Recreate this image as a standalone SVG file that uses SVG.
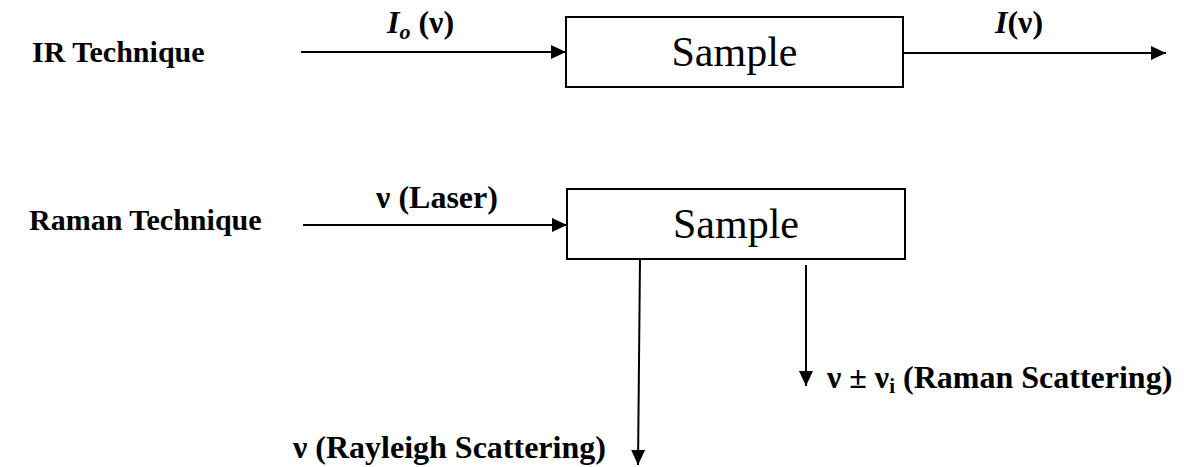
<svg xmlns="http://www.w3.org/2000/svg" width="1187" height="467" viewBox="0 0 1187 467">
  <style>
    .box { fill: #fff; stroke: #000; stroke-width: 2; }
    .wire { fill: none; stroke: #000; stroke-width: 2; }
    .lbl { font-family: "Liberation Serif", "Times New Roman", serif; font-weight: bold; font-size: 32px; fill: #000; }
    .tech { font-size: 30px; }
    .big { font-family: "Liberation Serif", "Times New Roman", serif; font-size: 42px; fill: #000; }
  </style>
  <defs>
    <marker id="head" viewBox="0 0 15 14" refX="15" refY="7" markerWidth="15" markerHeight="14" markerUnits="userSpaceOnUse" orient="auto">
      <path d="M0,0 L15,7 L0,14 Z" fill="#000"/>
    </marker>
  </defs>
  <rect width="1187" height="467" fill="#fff"/>

  <g id="ir-label"><text class="lbl tech" x="32" y="62">IR Technique</text></g>
  <g id="raman-label"><text class="lbl tech" x="29" y="230">Raman Technique</text></g>

  <g id="ir-sample">
    <rect class="box" x="566" y="17" width="337" height="70"/>
    <text class="big" x="734.5" y="66" text-anchor="middle">Sample</text>
  </g>
  <g id="raman-sample">
    <rect class="box" x="567" y="189" width="338" height="70"/>
    <text class="big" x="736" y="238" text-anchor="middle">Sample</text>
  </g>

  <g id="connectors">
    <line class="wire" x1="301" y1="52" x2="566" y2="52" marker-end="url(#head)"/>
    <line class="wire" x1="903" y1="53" x2="1166" y2="53" marker-end="url(#head)"/>
    <line class="wire" x1="303" y1="225" x2="567" y2="225" marker-end="url(#head)"/>
    <line class="wire" x1="640" y1="259" x2="638" y2="465" marker-end="url(#head)"/>
    <line class="wire" x1="806" y1="265" x2="806" y2="386" marker-end="url(#head)"/>
  </g>

  <g id="edge-labels">
    <text class="lbl" x="387" y="33"><tspan font-style="italic">I</tspan><tspan font-style="italic" font-size="22" dy="6">o</tspan><tspan dy="-6"> (ν)</tspan></text>
    <text class="lbl" x="995" y="33"><tspan font-style="italic">I</tspan>(ν)</text>
    <text class="lbl" x="437" y="208" text-anchor="middle">ν (Laser)</text>
    <text class="lbl" x="827" y="388">ν ± ν<tspan font-size="21" dy="5">i</tspan><tspan dy="-5"> (Raman Scattering)</tspan></text>
    <text class="lbl" x="293" y="458">ν (Rayleigh Scattering)</text>
  </g>
</svg>
